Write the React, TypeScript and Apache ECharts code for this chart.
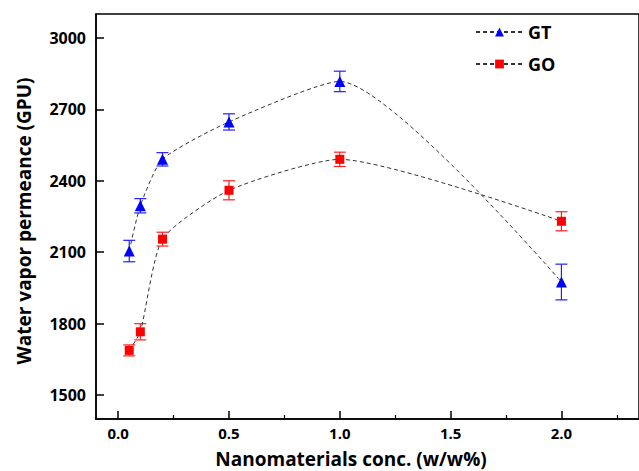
import React, { useEffect, useRef } from "react";
import * as echarts from "echarts";

const xValues = [0.05, 0.1, 0.2, 0.5, 1.0, 2.0];
const gtValues = [2105, 2295, 2490, 2647, 2817, 1975];
const gtErrors = [45, 30, 28, 34, 43, 75];
const goValues = [1688, 1766, 2155, 2360, 2490, 2230];
const goErrors = [23, 34, 29, 40, 30, 40];
const yTicks = [1500, 1800, 2100, 2400, 2700, 3000];
const xTicks = [0, 0.5, 1.0, 1.5, 2.0];
const xMinorTicks = [0.25, 0.75, 1.25, 1.75, 2.25];
const xTitle = "Nanomaterials conc. (w/w%)";
const yTitle = "Water vapor permeance (GPU)";

const FONT = "Open Sans";

function errorSeries(name: string, values: number[], errors: number[], color: string) {
  return {
    name: name + "-err",
    type: "custom",
    z: 1,
    silent: true,
    data: xValues.map((x, i) => [x, values[i] - errors[i], values[i] + errors[i]]),
    renderItem: (params: any, api: any) => {
      const x = api.value(0);
      const lo = api.coord([x, api.value(1)]);
      const hi = api.coord([x, api.value(2)]);
      const w = 6;
      const style = { stroke: color, lineWidth: 1.2, fill: "none" };
      return {
        type: "group",
        children: [
          { type: "line", shape: { x1: lo[0], y1: lo[1], x2: hi[0], y2: hi[1] }, style },
          { type: "line", shape: { x1: lo[0] - w, y1: lo[1], x2: lo[0] + w, y2: lo[1] }, style },
          { type: "line", shape: { x1: hi[0] - w, y1: hi[1], x2: hi[0] + w, y2: hi[1] }, style },
        ],
      };
    },
  };
}

export default function App() {
  const ref = useRef<HTMLDivElement>(null);
  useEffect(() => {
    if (!ref.current) return;
    const chart = echarts.init(ref.current, null, { renderer: "svg" });
    const lineStyle = { color: "#333", width: 1, type: [4, 3] as any };
    chart.setOption({
      animation: false,
      backgroundColor: "#fff",
      textStyle: { fontFamily: FONT },
      grid: {
        left: 96,
        top: 14,
        width: 560,
        height: 405,
        show: true,
        borderColor: "#000",
        borderWidth: 1.5,
        backgroundColor: "transparent",
      },
      graphic: [
        {
          type: "text",
          x: 351,
          y: 459,
          style: {
            text: xTitle,
            font: `bold 19px "${FONT}"`,
            fill: "#000",
            textAlign: "center",
            textVerticalAlign: "middle",
          },
        },
        {
          type: "text",
          x: 24,
          y: 221,
          rotation: Math.PI / 2,
          style: {
            text: yTitle,
            font: `bold 19px "${FONT}"`,
            fill: "#000",
            textAlign: "center",
            textVerticalAlign: "middle",
          },
        },
      ],
      legend: {
        orient: "vertical",
        left: 470,
        top: 18,
        itemWidth: 47,
        itemHeight: 11,
        itemGap: 14,
        data: ["GT", "GO"],
        textStyle: { fontFamily: FONT, fontWeight: "bold", fontSize: 18, color: "#000" },
      },
      xAxis: [
        {
          type: "value",
          min: -0.1,
          max: 2.35,
          position: "bottom",
          axisLine: { show: true, onZero: false, lineStyle: { color: "#000", width: 1.5 } },
          axisTick: { show: true, inside: true, length: 8, customValues: xTicks, lineStyle: { color: "#000", width: 1.5 } },
          axisLabel: {
            customValues: xTicks,
            margin: 6,
            formatter: (v: number) => v.toFixed(1),
            fontFamily: FONT,
            fontWeight: "bold",
            fontSize: 15,
            color: "#000",
          },
          splitLine: { show: false },
        },
        {
          type: "value",
          min: -0.1,
          max: 2.35,
          position: "bottom",
          axisLine: { show: false, onZero: false },
          axisTick: { show: true, inside: true, length: 4, customValues: xMinorTicks, lineStyle: { color: "#000", width: 1.2 } },
          axisLabel: { show: false },
          splitLine: { show: false },
        },
      ],
      yAxis: {
        type: "value",
        min: 1400,
        max: 3100,
        axisLine: { show: true, onZero: false, lineStyle: { color: "#000", width: 1.5 } },
        axisTick: { show: true, inside: true, length: 8, customValues: yTicks, lineStyle: { color: "#000", width: 1.5 } },
        axisLabel: {
          customValues: yTicks,
          margin: 10,
          formatter: (v: number) => String(v),
          fontFamily: FONT,
          fontWeight: "bold",
          fontSize: 16,
          color: "#000",
        },
        splitLine: { show: false },
      },
      series: [
        errorSeries("GT", gtValues, gtErrors, "#2020ff"),
        errorSeries("GO", goValues, goErrors, "#ff2020"),
        {
          name: "GT",
          type: "line",
          z: 3,
          smooth: 0.2,
          symbol: "triangle",
          symbolSize: 11,
          itemStyle: { color: "#0000ff" },
          lineStyle,
          data: xValues.map((x, i) => [x, gtValues[i]]),
        },
        {
          name: "GO",
          type: "line",
          z: 3,
          smooth: 0.2,
          symbol: "rect",
          symbolSize: 9,
          itemStyle: { color: "#ff0000" },
          lineStyle,
          data: xValues.map((x, i) => [x, goValues[i]]),
        },
      ],
    });
    return () => chart.dispose();
  }, []);
  return (
    <div
      ref={ref}
      style={{ position: "fixed", left: 0, top: 0, width: 639, height: 471 }}
    />
  );
}
